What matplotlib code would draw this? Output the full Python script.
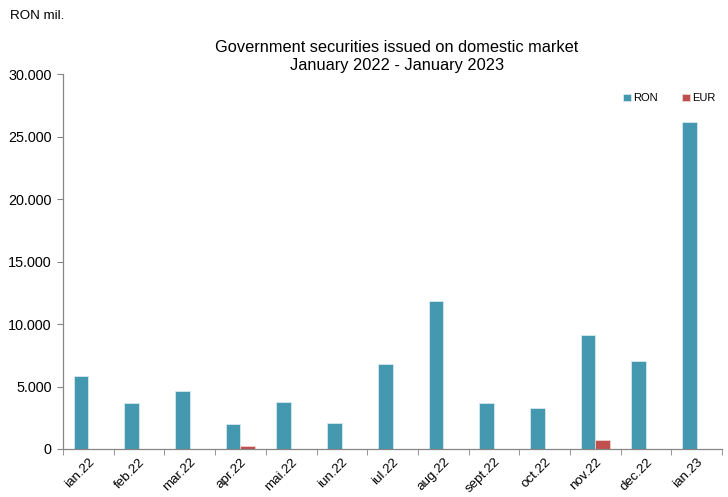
import matplotlib
matplotlib.use("Agg")
import matplotlib.pyplot as plt
from matplotlib.ticker import FuncFormatter, FixedLocator
import numpy as np

plt.rcParams["font.family"] = ["Liberation Sans", "DejaVu Sans"]

months = ["ian.22", "feb.22", "mar.22", "apr.22", "mai.22", "iun.22", "iul.22",
          "aug.22", "sept.22", "oct.22", "nov.22", "dec.22", "ian.23"]
ron = [5840, 3700, 4650, 2000, 3750, 2080, 6820, 11850, 3700, 3300, 9150, 7050, 26200]
eur = [0, 0, 0, 250, 0, 0, 0, 0, 0, 0, 700, 0, 0]

RON_COLOR = "#4499b1"
EUR_COLOR = "#c0504d"
AXIS_GRAY = "#868686"

fig = plt.figure(figsize=(7.28, 4.97), dpi=100)
ax = fig.add_axes([0.0865, 0.0966, 0.9055, 0.7544])

x = np.arange(len(months))
w = 0.29
ax.bar(x - w / 2, ron, width=w, color=RON_COLOR, edgecolor="#d6eaf0", linewidth=0.6, label="RON")
ax.bar(x + w / 2, eur, width=w, color=EUR_COLOR, edgecolor="#f0d0d0", linewidth=0.6, label="EUR")

ax.set_xlim(-0.5, len(months) - 0.5)
ax.set_ylim(0, 30000)
ax.set_yticks(np.arange(0, 30001, 5000))
ax.yaxis.set_major_formatter(FuncFormatter(lambda v, _: f"{int(v):,}".replace(",", ".")))

# category labels centred, tick marks at the boundaries
ax.set_xticks(x)
ax.set_xticklabels(months, rotation=45, ha="right", rotation_mode="anchor", fontsize=9.6)
ax.xaxis.set_minor_locator(FixedLocator(np.arange(-0.5, len(months), 1.0)))
ax.tick_params(axis="x", which="major", length=0, pad=5)
ax.tick_params(axis="x", which="minor", length=4, color=AXIS_GRAY, direction="out")
ax.tick_params(axis="y", length=4, color=AXIS_GRAY, labelsize=10.4, pad=4)

for side in ("top", "right"):
    ax.spines[side].set_visible(False)
for side in ("left", "bottom"):
    ax.spines[side].set_color(AXIS_GRAY)
    ax.spines[side].set_linewidth(0.9)

fig.text(0.014, 0.968, "RON mil.", fontsize=9.6, ha="left", va="center")
fig.text(0.545, 0.887, "Government securities issued on domestic market\nJanuary 2022 - January 2023",
         fontsize=11.8, ha="center", va="center", linespacing=1.25)

ax.legend(loc="upper right", bbox_to_anchor=(1.005, 0.975), ncol=2, frameon=False,
          fontsize=8, handlelength=0.7, handleheight=0.7, handletextpad=0.2, columnspacing=2.2)

fig.savefig("out.png", dpi=100)
